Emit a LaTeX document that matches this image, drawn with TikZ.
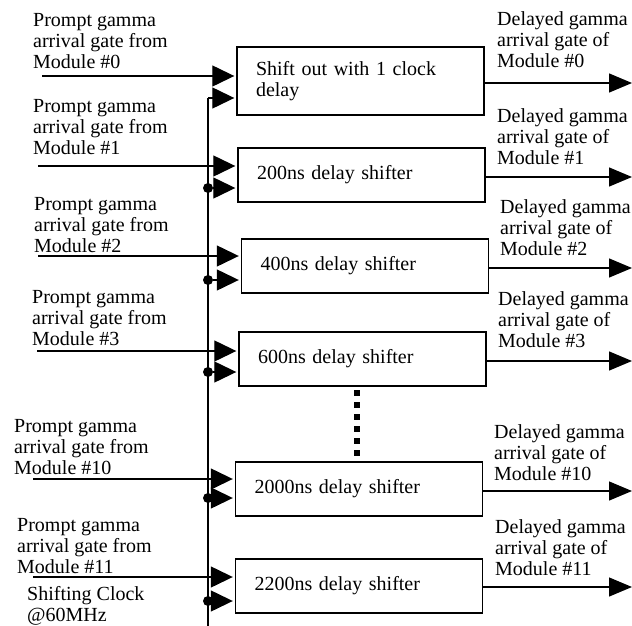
\documentclass[tikz,border=0pt]{standalone}
\usepackage{fontspec}
\setmainfont{Liberation Serif}
\usetikzlibrary{arrows.meta,positioning}

\begin{document}
\begin{tikzpicture}[x=1pt,y=-1pt,
      shifter/.style={draw,line width=1.4pt,minimum height=54pt,text width=209pt,
                      inner xsep=19pt,align=left,font=\fontsize{20}{21}\selectfont},
      note/.style={anchor=north west,inner sep=0pt,align=left,
                   font=\fontsize{20}{21}\selectfont},
      wire/.style={line width=1.3pt},
      gatein/.style={wire,-{Triangle[length=22pt,width=21pt]},shorten >=2pt},
      gateout/.style={wire,-{Triangle[length=23pt,width=19pt]}},
      tap/.style={circle,fill,inner sep=0pt,minimum size=10pt}]
    \useasboundingbox (0,0) rectangle (632,626);
    % shifter boxes
    \node[shifter,minimum height=68pt] (sh0) at (360.5,81) {Shift out with 1 clock\\delay};
    \node[shifter] (sh1)  at (361.5,175) {200ns delay shifter};
    \node[shifter] (sh2)  at (365,266)   {400ns delay shifter};
    \node[shifter] (sh3)  at (362.5,359) {600ns delay shifter};
    \node[shifter] (sh10) at (359,489)   {2000ns delay shifter};
    \node[shifter] (sh11) at (359,586)   {2200ns delay shifter};
    % texts
    \node[note] (p0)  at (33,13.5)  {Prompt gamma\\arrival gate from\\Module \#0};
    \node[note] (p1)  at (33,99.5)  {Prompt gamma\\arrival gate from\\Module \#1};
    \node[note] (p2)  at (34,197.5) {Prompt gamma\\arrival gate from\\Module \#2};
    \node[note] (p3)  at (32,290.5) {Prompt gamma\\arrival gate from\\Module \#3};
    \node[note] (p10) at (14,419.5) {Prompt gamma\\arrival gate from\\Module \#10};
    \node[note] (p11) at (17,518.5) {Prompt gamma\\arrival gate from\\Module \#11};
    \node[note] (clk) at (27,586)   {Shifting Clock\\@60MHz};
    \node[note] (d0)  at (497,11.5)  {Delayed gamma\\arrival gate of\\Module \#0};
    \node[note] (d1)  at (497,108.5) {Delayed gamma\\arrival gate of\\Module \#1};
    \node[note] (d2)  at (500,199.5) {Delayed gamma\\arrival gate of\\Module \#2};
    \node[note] (d3)  at (498,291.5) {Delayed gamma\\arrival gate of\\Module \#3};
    \node[note] (d10) at (494,424)   {Delayed gamma\\arrival gate of\\Module \#10};
    \node[note] (d11) at (495,519.5) {Delayed gamma\\arrival gate of\\Module \#11};
    % wire ends
    \coordinate (g0)  at (42,76);
    \coordinate (g1)  at (38,166);
    \coordinate (g2)  at (38,256);
    \coordinate (g3)  at (37,351);
    \coordinate (g10) at (33,479);
    \coordinate (g11) at (33,577);
    \coordinate (o0)  at (632,83);
    \coordinate (o1)  at (632,177);
    \coordinate (o2)  at (632,268);
    \coordinate (o3)  at (632,361);
    \coordinate (o10) at (632,491);
    \coordinate (o11) at (632,587);
    \coordinate (bus) at (208,626);
    \coordinate (k0)  at (208,98);
    \node[tap] (k1)  at (208,188) {};
    \node[tap] (k2)  at (208,280) {};
    \node[tap] (k3)  at (208,372) {};
    \node[tap] (k10) at (208,498) {};
    \node[tap] (k11) at (208,601) {};
    \coordinate (gapa) at (357,390);
    \coordinate (gapb) at (357,462);
    % gate inputs
    \draw[gatein] (g0)  -- (g0 -| sh0.west);
    \draw[gatein] (g1)  -- (g1 -| sh1.west);
    \draw[gatein] (g2)  -- (g2 -| sh2.west);
    \draw[gatein] (g3)  -- (g3 -| sh3.west);
    \draw[gatein] (g10) -- (g10 -| sh10.west);
    \draw[gatein] (g11) -- (g11 -| sh11.west);
    % clock
    \draw[wire] (bus) -- (k0);
    \draw[gatein] (k0)  -- (k0 -| sh0.west);
    \draw[gatein] (k1)  -- (k1 -| sh1.west);
    \draw[gatein] (k2)  -- (k2 -| sh2.west);
    \draw[gatein] (k3)  -- (k3 -| sh3.west);
    \draw[gatein] (k10) -- (k10 -| sh10.west);
    \draw[gatein] (k11) -- (k11 -| sh11.west);
    % delayed outputs
    \draw[gateout] (o0 -| sh0.east)   -- (o0);
    \draw[gateout] (o1 -| sh1.east)   -- (o1);
    \draw[gateout] (o2 -| sh2.east)   -- (o2);
    \draw[gateout] (o3 -| sh3.east)   -- (o3);
    \draw[gateout] (o10 -| sh10.east) -- (o10);
    \draw[gateout] (o11 -| sh11.east) -- (o11);
    \draw[line width=6pt,dash pattern=on 6pt off 6pt] (gapa) -- (gapb);
  \end{tikzpicture}
\end{document}
